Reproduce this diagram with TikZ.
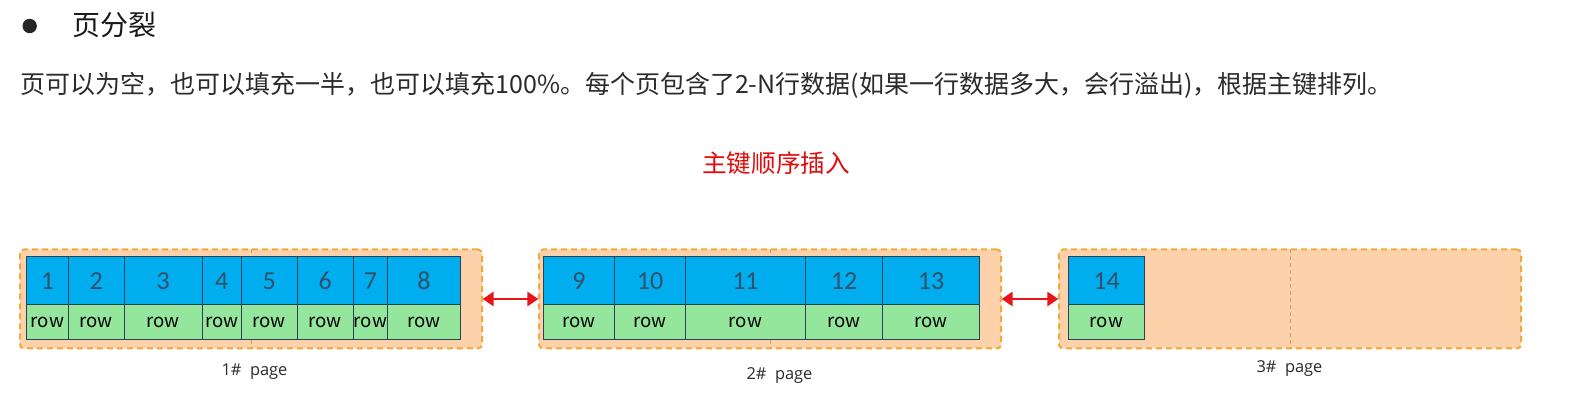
\documentclass[tikz,border=0pt]{standalone}
\usepackage{fontspec}
\setmainfont{Noto Sans CJK SC}
\newfontfamily\numfont{Carlito}
\newfontfamily\lblfont{Open Sans}
\usetikzlibrary{arrows.meta}
\definecolor{peach}{HTML}{FDD1AA}
\definecolor{dashorange}{HTML}{F2A93B}
\definecolor{midline}{HTML}{D49A6A}
\definecolor{cellblue}{HTML}{00AEEF}
\definecolor{cellgreen}{HTML}{93E69B}
\definecolor{numcol}{HTML}{34506A}
\definecolor{arrowred}{HTML}{E8161B}
\definecolor{titlered}{HTML}{E00B0B}
\definecolor{bodytext}{HTML}{2B2B2B}
\tikzset{
  pagebox/.style={draw=dashorange, fill=peach, line width=1pt, dash pattern=on 3pt off 2pt,
    rounded corners=2pt, minimum width=231pt, minimum height=49.5pt, inner sep=0pt, outer sep=0pt},
  midrule/.style={draw=midline, line width=0.4pt, dash pattern=on 2pt off 1.5pt},
  numcell/.style={draw=numcol!80!black, line width=0.5pt, fill=cellblue, minimum height=23.75pt,
    inner sep=0pt, outer sep=0pt, font=\numfont\fontsize{13}{15}\selectfont, text=numcol},
  rowcell/.style={draw=numcol!80!black, line width=0.5pt, fill=cellgreen, minimum height=17.5pt,
    inner sep=0pt, outer sep=0pt, font=\fontsize{9.3}{11}\selectfont, text=black},
  pagelabel/.style={font=\lblfont\fontsize{8.2}{10}\selectfont, text=bodytext, inner sep=0pt},
  linkarrow/.style={draw=arrowred, line width=1.4pt, {Triangle[length=5.5pt,width=7pt]}-{Triangle[length=5.5pt,width=7pt]}, shorten <=0.3pt, shorten >=0.3pt},
}
\begin{document}
\begin{tikzpicture}[x=0.5pt, y=-0.5pt]
\path[use as bounding box, fill=white] (0,0) rectangle (1575,411);
% header
\fill[black!85] (29.7,26) circle (3.6pt);
\node[anchor=west, inner sep=0pt, font=\fontsize{14}{16}\selectfont, text=black!90] (title) at (72,25) {页分裂};
\node[anchor=west, inner sep=0pt, font=\fontsize{12.5}{15}\selectfont, text=bodytext] (desc) at (20,85)
  {页可以为空，也可以填充一半，也可以填充100\%。每个页包含了2-N行数据(如果一行数据多大，会行溢出)，根据主键排列。};
\node[inner sep=0pt, font=\fontsize{12.3}{15}\selectfont, text=titlered] (order) at (776,163) {主键顺序插入};
% pages
\node[pagebox] (p1) at (251,299) {};
\node[pagebox] (p2) at (770,299) {};
\node[pagebox] (p3) at (1290,299) {};
\foreach \p in {p1,p2,p3} \draw[midrule] (\p.north) -- (\p.south);
% cells
\foreach \x/\nx/\t in {26.7/68.3/1, 68.3/124.3/2, 124.3/202.3/3, 202.3/241.3/4, 241.3/297.3/5,
    297.3/353.3/6, 353.3/387.7/7, 387.7/460/8, 543.4/614.7/9, 614.7/685.6/10, 685.6/805.3/11,
    805.3/882.7/12, 882.7/979.3/13, 1068.3/1144.7/14} {
  \node[numcell, minimum width={(\nx-\x)*0.5pt}] (n\t) at ({(\x+\nx)/2},280.75) {\t};
  \node[rowcell, minimum width={(\nx-\x)*0.5pt}] (r\t) at ({(\x+\nx)/2},322.25) {row};
}
% links
\draw[linkarrow] (p1.east) -- (p2.west);
\draw[linkarrow] (p2.east) -- (p3.west);
% labels
\node[pagelabel] (l1) at (254.5,371.5) {1\#\ \ page};
\node[pagelabel] (l2) at (779.5,376) {2\#\ \ page};
\node[pagelabel] (l3) at (1289.5,369) {3\#\ \ page};
\end{tikzpicture}
\end{document}
